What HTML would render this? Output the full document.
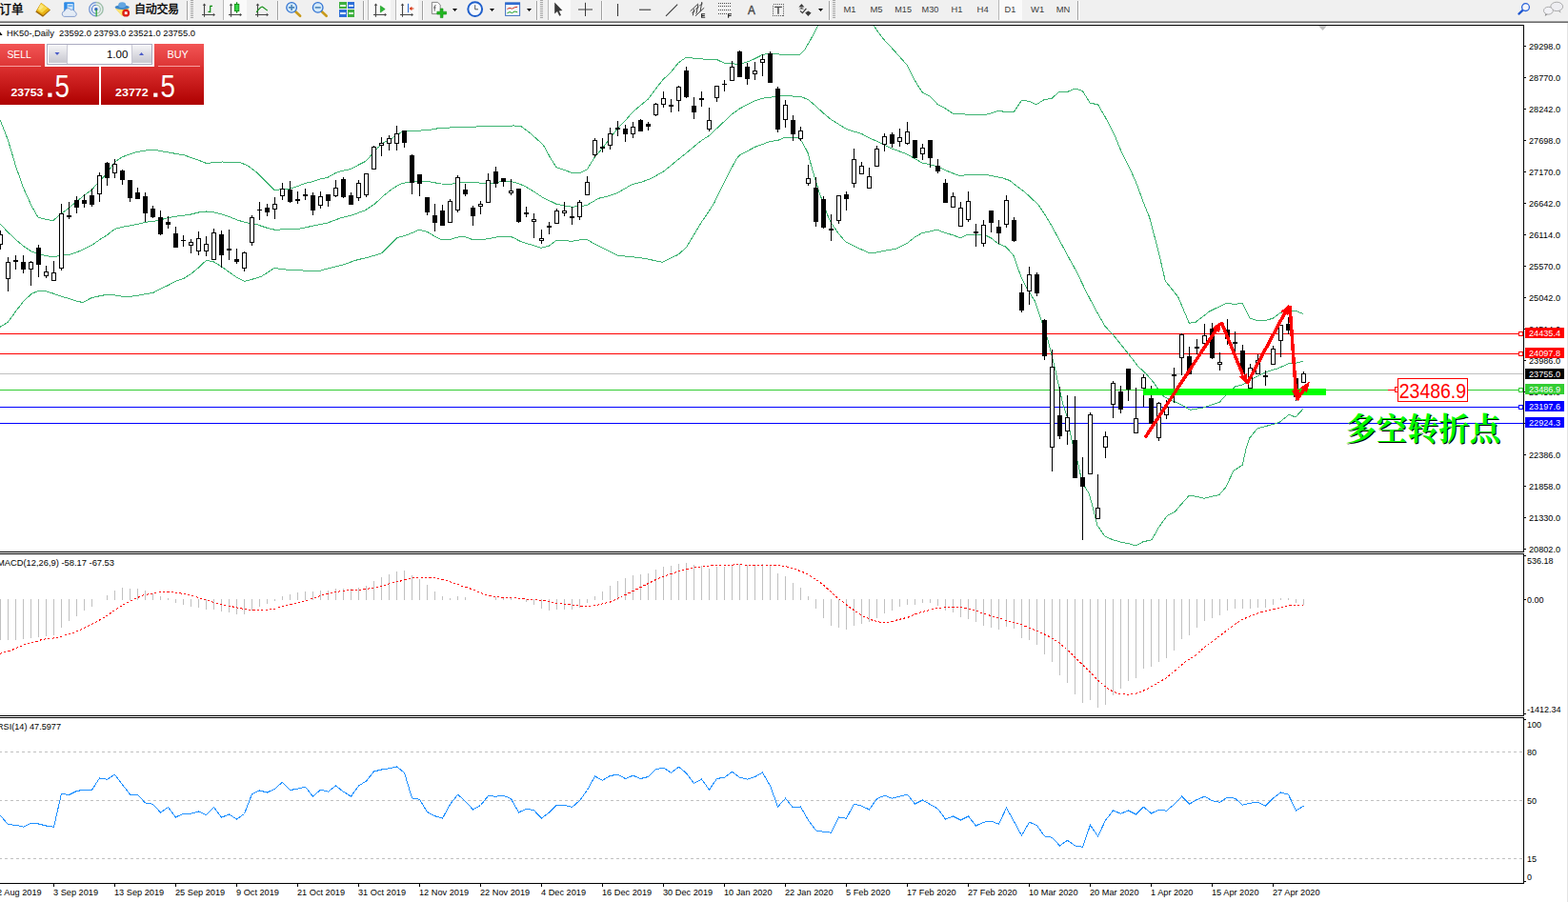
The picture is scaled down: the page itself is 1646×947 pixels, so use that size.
<!DOCTYPE html>
<html><head><meta charset="utf-8"><title>HK50 Daily</title>
<style>html,body{margin:0;padding:0;background:#fff;overflow:hidden}body{width:1646px;height:947px;font-family:"Liberation Sans",sans-serif}</style>
</head><body>
<svg width="1646" height="947" viewBox="0 0 1646 947" font-family="Liberation Sans, sans-serif" style="display:block">
<rect width="1646" height="947" fill="#fff"/>
<defs><clipPath id="cm"><rect x="0" y="27" width="1599" height="552"/></clipPath><clipPath id="cmacd"><rect x="0" y="582" width="1599" height="169"/></clipPath><clipPath id="crsi"><rect x="0" y="754" width="1599" height="173"/></clipPath><linearGradient id="gtab" x1="0" y1="0" x2="0" y2="1"><stop offset="0" stop-color="#F25555"/><stop offset="1" stop-color="#DC3333"/></linearGradient><linearGradient id="gblk" x1="0" y1="0" x2="0" y2="1"><stop offset="0" stop-color="#DC3030"/><stop offset="1" stop-color="#AE0000"/></linearGradient><linearGradient id="gbtn" x1="0" y1="0" x2="0" y2="1"><stop offset="0" stop-color="#F4F4F6"/><stop offset="0.5" stop-color="#DCDCE2"/><stop offset="1" stop-color="#C8C8D0"/></linearGradient></defs>
<g shape-rendering="crispEdges">
<rect x="0" y="350" width="1599" height="1" fill="#FF0000"/>
<rect x="0" y="371" width="1599" height="1" fill="#FF0000"/>
<rect x="0" y="392" width="1599" height="1" fill="#C0C0C0"/>
<rect x="0" y="409" width="1599" height="1" fill="#32CD32"/>
<rect x="0" y="427" width="1599" height="1" fill="#0000FF"/>
<rect x="0" y="444" width="1599" height="1" fill="#0000FF"/>
</g>
<g clip-path="url(#cm)" shape-rendering="crispEdges">
<polyline fill="none" stroke="#3CB371" stroke-width="1" points="0.0,125.8 8.3,146.7 16.7,175.0 25.0,198.4 33.4,216.8 40.0,228.1 48.4,230.5 55.9,231.5 64.4,224.3 72.4,218.4 80.4,211.4 88.4,205.1 96.4,199.3 104.5,190.0 112.5,181.7 120.5,170.0 128.5,164.7 143.5,159.5 160.2,157.0 176.9,160.0 193.6,163.0 206.9,167.6 216.6,171.4 233.6,170.0 252.0,170.4 260.3,174.2 270.0,181.3 278.3,190.0 288.3,200.0 296.0,198.3 304.0,198.3 312.0,195.8 320.0,192.5 328.0,190.8 336.0,188.0 344.0,186.3 352.0,181.7 360.0,179.2 368.0,177.5 376.0,173.3 384.0,169.2 390.0,162.5 396.7,155.0 403.3,149.2 411.7,145.0 420.0,139.7 424.0,137.2 436.7,137.2 450.0,136.7 460.0,134.7 470.0,134.2 480.0,133.0 486.7,133.8 503.3,132.8 511.7,132.2 540.0,132.0 546.7,132.5 556.7,140.0 570.0,151.7 578.3,166.7 584.2,175.8 591.7,178.3 600.0,181.3 609.2,181.3 616.3,178.0 624.3,165.0 632.3,155.8 640.3,145.0 648.3,135.0 656.3,126.7 664.3,117.5 672.3,110.8 680.3,104.2 688.3,93.3 696.3,83.3 704.3,75.8 712.3,65.8 720.3,60.3 728.3,61.2 736.3,61.7 744.3,63.0 752.3,62.5 760.3,66.2 768.3,66.7 776.3,67.5 784.3,65.0 792.3,61.7 800.3,57.5 808.3,56.2 820.0,57.2 840.0,57.2 845.0,51.8 851.7,40.2 858.3,27.7 860.0,24.0" /><polyline fill="none" stroke="#3CB371" stroke-width="1" points="915.0,24.0 920.0,31.0 926.7,40.2 936.7,51.0 945.0,60.2 951.7,67.7 956.7,77.7 961.7,86.8 968.0,96.8 976.0,101.0 984.0,109.3 991.7,113.5 1000.0,119.0 1015.0,120.2 1035.0,120.2 1041.7,118.5 1048.3,116.0 1056.7,118.0 1064.7,117.0 1072.5,105.3 1080.0,106.3 1088.0,109.7 1096.0,104.7 1104.0,103.3 1112.0,96.3 1120.8,96.3 1128.3,93.0 1136.3,95.3 1144.3,108.3 1152.5,109.7 1160.0,122.5 1170.0,141.7 1176.7,158.3 1186.7,178.3 1193.3,193.3 1200.0,211.7 1206.7,228.3 1209.2,237.5 1217.5,270.0 1223.3,295.0 1236.7,311.7 1248.3,339.2 1255.0,338.3 1270.0,326.7 1288.0,318.0 1296.0,319.5 1304.0,318.2 1312.0,334.0 1320.0,336.5 1328.0,336.5 1336.0,334.3 1344.0,328.5 1352.0,326.5 1360.0,326.2 1368.0,329.5" />
<polyline fill="none" stroke="#3CB371" stroke-width="1" points="0.0,235.0 8.3,243.7 16.7,251.7 25.0,258.7 33.4,264.2 40.4,266.7 48.4,268.7 56.4,269.7 64.4,268.3 72.4,267.5 80.4,265.0 88.4,261.3 96.4,257.5 104.5,251.7 112.5,246.7 120.5,240.5 128.5,238.3 136.5,237.0 144.5,235.3 152.5,233.3 160.5,232.5 168.5,230.8 176.5,228.7 184.5,227.2 192.6,226.2 200.6,225.0 208.6,223.0 216.6,222.0 224.6,223.0 232.6,225.0 240.6,227.5 248.6,230.8 256.6,233.3 264.6,235.0 270.0,235.8 280.0,239.2 288.3,241.2 300.0,240.8 315.0,240.0 328.3,237.2 343.3,234.2 356.7,229.2 370.0,225.8 383.3,220.8 393.3,214.2 403.3,205.0 411.7,198.3 420.0,193.3 426.7,191.7 436.7,190.8 446.7,190.0 453.3,191.3 463.3,193.0 473.3,193.3 480.0,192.0 486.7,191.3 503.3,192.0 520.0,192.0 528.0,190.0 536.7,190.8 544.0,192.5 550.0,195.0 560.0,200.8 570.0,207.5 584.0,214.2 592.0,215.8 600.0,217.2 608.0,216.7 616.0,215.5 628.3,208.3 640.0,205.5 648.3,202.5 663.3,193.7 673.3,191.2 683.3,187.5 696.7,180.0 706.7,171.7 720.3,160.8 736.3,147.5 744.3,142.5 752.3,135.0 760.3,127.5 768.3,120.0 776.3,114.2 784.3,109.7 792.3,105.8 800.3,103.3 808.3,102.2 816.0,101.3 824.0,100.2 832.0,101.0 840.0,101.3 848.0,104.3 856.0,111.0 864.0,118.5 872.0,125.2 880.0,130.2 888.0,135.2 896.0,138.0 904.0,140.2 912.0,144.7 920.0,148.0 928.0,151.8 936.0,156.0 944.0,158.8 952.0,161.8 960.0,166.5 968.0,171.0 976.0,172.7 984.0,174.7 991.7,178.5 1000.0,181.8 1008.0,184.7 1016.7,183.3 1035.0,183.3 1043.3,185.0 1051.7,186.7 1060.0,189.5 1066.7,195.0 1076.7,202.5 1090.0,215.0 1098.3,227.5 1104.2,237.5 1121.7,270.0 1130.0,285.0 1140.0,305.8 1150.0,325.0 1160.0,342.5 1170.0,353.3 1183.3,370.0 1195.0,385.0 1203.3,392.5 1211.7,402.5 1220.0,415.0 1226.7,419.2 1236.7,423.3 1243.3,426.7 1249.2,430.3 1261.7,428.3 1266.7,426.7 1280.0,422.5 1288.3,413.3 1296.7,405.8 1305.0,403.7 1316.7,396.7 1328.3,390.8 1341.7,386.7 1353.0,381.7 1360.0,381.3 1368.0,379.2" />
<polyline fill="none" stroke="#3CB371" stroke-width="1" points="0.0,343.3 8.3,338.3 16.7,326.7 25.0,315.8 33.4,308.3 40.4,305.3 48.4,305.8 56.4,308.3 64.4,311.3 72.4,313.3 80.4,316.2 87.0,317.5 96.4,312.5 104.5,310.8 112.5,309.2 120.5,310.0 128.5,311.2 136.5,311.3 144.5,310.3 152.5,308.7 160.5,307.5 168.5,303.3 176.5,299.5 184.5,295.3 192.6,292.5 200.6,287.5 208.6,280.8 216.6,273.3 224.6,275.0 232.6,280.0 240.6,285.8 248.6,291.3 256.6,295.3 264.6,293.3 274.0,290.5 288.0,281.5 300.0,283.0 319.6,284.1 336.3,284.1 350.0,280.5 361.7,277.5 373.3,273.3 386.7,270.0 400.0,266.3 408.3,258.3 416.7,249.7 425.0,247.5 433.3,244.2 440.0,241.3 448.3,243.3 456.7,248.3 464.2,252.0 471.7,251.7 480.0,249.2 486.7,248.0 495.0,251.2 503.3,251.7 511.7,250.8 520.0,249.2 528.0,248.0 536.7,248.7 540.0,250.0 546.7,253.7 556.7,256.7 568.0,260.3 576.0,258.3 584.0,252.5 592.0,252.5 600.0,253.3 608.0,252.0 616.0,251.2 625.0,256.7 635.0,261.3 648.3,268.3 663.3,269.7 676.7,271.3 690.0,274.2 695.8,275.3 703.3,271.3 711.7,267.5 720.3,260.0 728.3,246.7 736.3,233.3 744.3,221.7 750.0,212.5 756.7,198.3 765.0,181.7 773.3,166.7 776.3,163.0 784.3,158.8 792.3,154.5 800.3,151.5 808.3,148.5 816.7,147.3 824.0,144.3 832.0,144.0 838.3,144.7 842.5,149.7 848.0,160.5 851.7,174.0 856.0,189.2 860.0,201.7 864.0,213.3 868.3,225.0 872.0,233.3 880.0,245.0 888.0,254.2 900.0,260.0 912.0,265.3 920.0,265.0 930.0,263.0 940.0,261.3 951.7,255.8 960.0,249.2 968.0,244.5 976.0,243.0 984.0,241.2 992.0,244.5 1000.0,246.7 1008.0,249.7 1016.0,246.3 1024.0,246.7 1032.0,245.8 1040.0,249.7 1048.0,255.8 1056.0,259.2 1064.0,268.3 1068.0,280.0 1072.0,291.0 1078.3,303.3 1086.7,316.7 1093.3,336.7 1100.0,356.7 1106.7,383.3 1112.0,408.0 1116.0,425.0 1120.0,436.7 1125.0,461.7 1131.7,486.7 1136.0,506.7 1143.3,518.3 1148.3,536.7 1152.0,551.7 1160.0,563.3 1168.3,566.7 1176.7,569.2 1185.0,570.8 1192.0,573.0 1200.0,568.8 1209.2,566.7 1216.0,554.2 1225.0,541.7 1233.3,537.5 1241.7,527.5 1248.3,520.3 1255.8,521.2 1264.2,523.3 1271.7,521.3 1280.0,519.5 1286.7,511.7 1295.0,494.2 1304.2,488.3 1308.3,470.0 1311.7,460.0 1320.0,449.7 1333.3,446.3 1343.3,443.3 1353.0,435.3 1360.0,438.0 1368.0,429.2" />
</g>
<g clip-path="url(#cm)" shape-rendering="crispEdges">
<rect x="0" y="242" width="1" height="20" fill="#000"/>
<rect x="-2" y="246" width="5" height="11" fill="#000"/>
<rect x="-1" y="247" width="3" height="9" fill="#fff"/>
<rect x="8" y="270" width="1" height="36" fill="#000"/>
<rect x="6" y="275" width="5" height="18" fill="#000"/>
<rect x="7" y="276" width="3" height="16" fill="#fff"/>
<rect x="16" y="268" width="1" height="15" fill="#000"/>
<rect x="14" y="273" width="5" height="2" fill="#000"/>
<rect x="24" y="268" width="1" height="19" fill="#000"/>
<rect x="22" y="275" width="5" height="8" fill="#000"/>
<rect x="32" y="274" width="1" height="26" fill="#000"/>
<rect x="30" y="275" width="5" height="8" fill="#000"/>
<rect x="31" y="276" width="3" height="6" fill="#fff"/>
<rect x="40" y="257" width="1" height="34" fill="#000"/>
<rect x="38" y="260" width="5" height="18" fill="#000"/>
<rect x="48" y="279" width="1" height="13" fill="#000"/>
<rect x="46" y="285" width="5" height="5" fill="#000"/>
<rect x="47" y="286" width="3" height="3" fill="#fff"/>
<rect x="56" y="274" width="1" height="21" fill="#000"/>
<rect x="54" y="286" width="5" height="9" fill="#000"/>
<rect x="55" y="287" width="3" height="7" fill="#fff"/>
<rect x="64" y="214" width="1" height="70" fill="#000"/>
<rect x="62" y="224" width="5" height="58" fill="#000"/>
<rect x="63" y="225" width="3" height="56" fill="#fff"/>
<rect x="72" y="212" width="1" height="18" fill="#000"/>
<rect x="70" y="226" width="5" height="2" fill="#000"/>
<rect x="80" y="206" width="1" height="18" fill="#000"/>
<rect x="78" y="210" width="5" height="8" fill="#000"/>
<rect x="88" y="204" width="1" height="14" fill="#000"/>
<rect x="86" y="210" width="5" height="4" fill="#000"/>
<rect x="96" y="198" width="1" height="19" fill="#000"/>
<rect x="94" y="205" width="5" height="10" fill="#000"/>
<rect x="104" y="181" width="1" height="31" fill="#000"/>
<rect x="102" y="184" width="5" height="20" fill="#000"/>
<rect x="103" y="185" width="3" height="18" fill="#fff"/>
<rect x="112" y="170" width="1" height="25" fill="#000"/>
<rect x="110" y="171" width="5" height="16" fill="#000"/>
<rect x="120" y="167" width="1" height="20" fill="#000"/>
<rect x="118" y="172" width="5" height="10" fill="#000"/>
<rect x="119" y="173" width="3" height="8" fill="#fff"/>
<rect x="128" y="178" width="1" height="16" fill="#000"/>
<rect x="126" y="179" width="5" height="10" fill="#000"/>
<rect x="136" y="189" width="1" height="23" fill="#000"/>
<rect x="134" y="189" width="5" height="19" fill="#000"/>
<rect x="144" y="197" width="1" height="12" fill="#000"/>
<rect x="142" y="202" width="5" height="7" fill="#000"/>
<rect x="152" y="202" width="1" height="31" fill="#000"/>
<rect x="150" y="206" width="5" height="18" fill="#000"/>
<rect x="160" y="216" width="1" height="13" fill="#000"/>
<rect x="158" y="219" width="5" height="9" fill="#000"/>
<rect x="168" y="221" width="1" height="26" fill="#000"/>
<rect x="166" y="228" width="5" height="18" fill="#000"/>
<rect x="176" y="227" width="1" height="13" fill="#000"/>
<rect x="174" y="233" width="5" height="3" fill="#000"/>
<rect x="184" y="238" width="1" height="22" fill="#000"/>
<rect x="182" y="245" width="5" height="15" fill="#000"/>
<rect x="192" y="247" width="1" height="12" fill="#000"/>
<rect x="190" y="252" width="5" height="1" fill="#000"/>
<rect x="200" y="251" width="1" height="15" fill="#000"/>
<rect x="198" y="254" width="5" height="4" fill="#000"/>
<rect x="199" y="255" width="3" height="2" fill="#fff"/>
<rect x="208" y="243" width="1" height="25" fill="#000"/>
<rect x="206" y="250" width="5" height="14" fill="#000"/>
<rect x="207" y="251" width="3" height="12" fill="#fff"/>
<rect x="216" y="248" width="1" height="21" fill="#000"/>
<rect x="214" y="256" width="5" height="8" fill="#000"/>
<rect x="215" y="257" width="3" height="6" fill="#fff"/>
<rect x="224" y="240" width="1" height="33" fill="#000"/>
<rect x="222" y="244" width="5" height="29" fill="#000"/>
<rect x="223" y="245" width="3" height="27" fill="#fff"/>
<rect x="232" y="242" width="1" height="39" fill="#000"/>
<rect x="230" y="246" width="5" height="22" fill="#000"/>
<rect x="240" y="241" width="1" height="32" fill="#000"/>
<rect x="238" y="261" width="5" height="2" fill="#000"/>
<rect x="248" y="261" width="1" height="16" fill="#000"/>
<rect x="246" y="272" width="5" height="3" fill="#000"/>
<rect x="256" y="264" width="1" height="21" fill="#000"/>
<rect x="254" y="265" width="5" height="17" fill="#000"/>
<rect x="255" y="266" width="3" height="15" fill="#fff"/>
<rect x="264" y="226" width="1" height="32" fill="#000"/>
<rect x="262" y="228" width="5" height="27" fill="#000"/>
<rect x="263" y="229" width="3" height="25" fill="#fff"/>
<rect x="272" y="212" width="1" height="19" fill="#000"/>
<rect x="270" y="220" width="5" height="1" fill="#000"/>
<rect x="280" y="214" width="1" height="13" fill="#000"/>
<rect x="278" y="218" width="5" height="5" fill="#000"/>
<rect x="288" y="207" width="1" height="23" fill="#000"/>
<rect x="286" y="214" width="5" height="6" fill="#000"/>
<rect x="287" y="215" width="3" height="4" fill="#fff"/>
<rect x="296" y="192" width="1" height="18" fill="#000"/>
<rect x="294" y="198" width="5" height="8" fill="#000"/>
<rect x="295" y="199" width="3" height="6" fill="#fff"/>
<rect x="304" y="190" width="1" height="23" fill="#000"/>
<rect x="302" y="199" width="5" height="13" fill="#000"/>
<rect x="312" y="201" width="1" height="13" fill="#000"/>
<rect x="310" y="209" width="5" height="2" fill="#000"/>
<rect x="320" y="198" width="1" height="12" fill="#000"/>
<rect x="318" y="204" width="5" height="2" fill="#000"/>
<rect x="328" y="202" width="1" height="24" fill="#000"/>
<rect x="326" y="205" width="5" height="16" fill="#000"/>
<rect x="336" y="201" width="1" height="18" fill="#000"/>
<rect x="334" y="206" width="5" height="10" fill="#000"/>
<rect x="335" y="207" width="3" height="8" fill="#fff"/>
<rect x="344" y="204" width="1" height="13" fill="#000"/>
<rect x="342" y="204" width="5" height="7" fill="#000"/>
<rect x="352" y="189" width="1" height="18" fill="#000"/>
<rect x="350" y="197" width="5" height="9" fill="#000"/>
<rect x="351" y="198" width="3" height="7" fill="#fff"/>
<rect x="360" y="186" width="1" height="22" fill="#000"/>
<rect x="358" y="188" width="5" height="19" fill="#000"/>
<rect x="368" y="202" width="1" height="13" fill="#000"/>
<rect x="366" y="205" width="5" height="10" fill="#000"/>
<rect x="376" y="189" width="1" height="22" fill="#000"/>
<rect x="374" y="192" width="5" height="16" fill="#000"/>
<rect x="375" y="193" width="3" height="14" fill="#fff"/>
<rect x="384" y="182" width="1" height="25" fill="#000"/>
<rect x="382" y="182" width="5" height="23" fill="#000"/>
<rect x="383" y="183" width="3" height="21" fill="#fff"/>
<rect x="392" y="153" width="1" height="25" fill="#000"/>
<rect x="390" y="154" width="5" height="24" fill="#000"/>
<rect x="391" y="155" width="3" height="22" fill="#fff"/>
<rect x="400" y="144" width="1" height="20" fill="#000"/>
<rect x="398" y="150" width="5" height="3" fill="#000"/>
<rect x="399" y="151" width="3" height="1" fill="#fff"/>
<rect x="408" y="142" width="1" height="16" fill="#000"/>
<rect x="406" y="145" width="5" height="6" fill="#000"/>
<rect x="407" y="146" width="3" height="4" fill="#fff"/>
<rect x="416" y="132" width="1" height="26" fill="#000"/>
<rect x="414" y="140" width="5" height="11" fill="#000"/>
<rect x="415" y="141" width="3" height="9" fill="#fff"/>
<rect x="424" y="137" width="1" height="18" fill="#000"/>
<rect x="422" y="137" width="5" height="13" fill="#000"/>
<rect x="432" y="162" width="1" height="42" fill="#000"/>
<rect x="430" y="163" width="5" height="29" fill="#000"/>
<rect x="440" y="183" width="1" height="23" fill="#000"/>
<rect x="438" y="183" width="5" height="10" fill="#000"/>
<rect x="448" y="207" width="1" height="19" fill="#000"/>
<rect x="446" y="207" width="5" height="16" fill="#000"/>
<rect x="456" y="214" width="1" height="29" fill="#000"/>
<rect x="454" y="226" width="5" height="8" fill="#000"/>
<rect x="464" y="215" width="1" height="22" fill="#000"/>
<rect x="462" y="221" width="5" height="16" fill="#000"/>
<rect x="472" y="209" width="1" height="25" fill="#000"/>
<rect x="470" y="211" width="5" height="23" fill="#000"/>
<rect x="471" y="212" width="3" height="21" fill="#fff"/>
<rect x="480" y="184" width="1" height="39" fill="#000"/>
<rect x="478" y="186" width="5" height="35" fill="#000"/>
<rect x="479" y="187" width="3" height="33" fill="#fff"/>
<rect x="488" y="193" width="1" height="13" fill="#000"/>
<rect x="486" y="199" width="5" height="5" fill="#000"/>
<rect x="496" y="216" width="1" height="21" fill="#000"/>
<rect x="494" y="218" width="5" height="9" fill="#000"/>
<rect x="504" y="211" width="1" height="14" fill="#000"/>
<rect x="502" y="214" width="5" height="3" fill="#000"/>
<rect x="503" y="215" width="3" height="1" fill="#fff"/>
<rect x="512" y="182" width="1" height="31" fill="#000"/>
<rect x="510" y="189" width="5" height="24" fill="#000"/>
<rect x="511" y="190" width="3" height="22" fill="#fff"/>
<rect x="520" y="175" width="1" height="22" fill="#000"/>
<rect x="518" y="180" width="5" height="13" fill="#000"/>
<rect x="528" y="187" width="1" height="9" fill="#000"/>
<rect x="526" y="187" width="5" height="4" fill="#000"/>
<rect x="536" y="188" width="1" height="17" fill="#000"/>
<rect x="534" y="200" width="5" height="3" fill="#000"/>
<rect x="535" y="201" width="3" height="1" fill="#fff"/>
<rect x="544" y="198" width="1" height="36" fill="#000"/>
<rect x="542" y="198" width="5" height="35" fill="#000"/>
<rect x="552" y="217" width="1" height="11" fill="#000"/>
<rect x="550" y="223" width="5" height="2" fill="#000"/>
<rect x="560" y="224" width="1" height="26" fill="#000"/>
<rect x="558" y="230" width="5" height="3" fill="#000"/>
<rect x="559" y="231" width="3" height="1" fill="#fff"/>
<rect x="568" y="241" width="1" height="15" fill="#000"/>
<rect x="566" y="250" width="5" height="3" fill="#000"/>
<rect x="567" y="251" width="3" height="1" fill="#fff"/>
<rect x="576" y="233" width="1" height="13" fill="#000"/>
<rect x="574" y="237" width="5" height="2" fill="#000"/>
<rect x="584" y="219" width="1" height="16" fill="#000"/>
<rect x="582" y="221" width="5" height="14" fill="#000"/>
<rect x="583" y="222" width="3" height="12" fill="#fff"/>
<rect x="592" y="212" width="1" height="15" fill="#000"/>
<rect x="590" y="221" width="5" height="3" fill="#000"/>
<rect x="591" y="222" width="3" height="1" fill="#fff"/>
<rect x="600" y="217" width="1" height="19" fill="#000"/>
<rect x="598" y="227" width="5" height="2" fill="#000"/>
<rect x="608" y="210" width="1" height="21" fill="#000"/>
<rect x="606" y="212" width="5" height="16" fill="#000"/>
<rect x="607" y="213" width="3" height="14" fill="#fff"/>
<rect x="616" y="185" width="1" height="20" fill="#000"/>
<rect x="614" y="191" width="5" height="14" fill="#000"/>
<rect x="615" y="192" width="3" height="12" fill="#fff"/>
<rect x="624" y="145" width="1" height="20" fill="#000"/>
<rect x="622" y="147" width="5" height="16" fill="#000"/>
<rect x="623" y="148" width="3" height="14" fill="#fff"/>
<rect x="632" y="145" width="1" height="15" fill="#000"/>
<rect x="630" y="154" width="5" height="2" fill="#000"/>
<rect x="640" y="134" width="1" height="23" fill="#000"/>
<rect x="638" y="140" width="5" height="13" fill="#000"/>
<rect x="639" y="141" width="3" height="11" fill="#fff"/>
<rect x="648" y="127" width="1" height="16" fill="#000"/>
<rect x="646" y="134" width="5" height="2" fill="#000"/>
<rect x="656" y="131" width="1" height="18" fill="#000"/>
<rect x="654" y="135" width="5" height="6" fill="#000"/>
<rect x="664" y="128" width="1" height="17" fill="#000"/>
<rect x="662" y="133" width="5" height="8" fill="#000"/>
<rect x="663" y="134" width="3" height="6" fill="#fff"/>
<rect x="672" y="125" width="1" height="13" fill="#000"/>
<rect x="670" y="126" width="5" height="12" fill="#000"/>
<rect x="680" y="128" width="1" height="9" fill="#000"/>
<rect x="678" y="130" width="5" height="3" fill="#000"/>
<rect x="688" y="108" width="1" height="14" fill="#000"/>
<rect x="686" y="109" width="5" height="12" fill="#000"/>
<rect x="687" y="110" width="3" height="10" fill="#fff"/>
<rect x="696" y="96" width="1" height="17" fill="#000"/>
<rect x="694" y="103" width="5" height="7" fill="#000"/>
<rect x="695" y="104" width="3" height="5" fill="#fff"/>
<rect x="704" y="104" width="1" height="14" fill="#000"/>
<rect x="702" y="110" width="5" height="2" fill="#000"/>
<rect x="712" y="90" width="1" height="27" fill="#000"/>
<rect x="710" y="91" width="5" height="15" fill="#000"/>
<rect x="711" y="92" width="3" height="13" fill="#fff"/>
<rect x="720" y="70" width="1" height="33" fill="#000"/>
<rect x="718" y="74" width="5" height="28" fill="#000"/>
<rect x="728" y="102" width="1" height="23" fill="#000"/>
<rect x="726" y="111" width="5" height="7" fill="#000"/>
<rect x="736" y="96" width="1" height="16" fill="#000"/>
<rect x="734" y="103" width="5" height="2" fill="#000"/>
<rect x="744" y="113" width="1" height="25" fill="#000"/>
<rect x="742" y="126" width="5" height="10" fill="#000"/>
<rect x="743" y="127" width="3" height="8" fill="#fff"/>
<rect x="752" y="90" width="1" height="17" fill="#000"/>
<rect x="750" y="90" width="5" height="13" fill="#000"/>
<rect x="751" y="91" width="3" height="11" fill="#fff"/>
<rect x="760" y="84" width="1" height="12" fill="#000"/>
<rect x="758" y="88" width="5" height="1" fill="#000"/>
<rect x="768" y="64" width="1" height="21" fill="#000"/>
<rect x="766" y="70" width="5" height="15" fill="#000"/>
<rect x="767" y="71" width="3" height="13" fill="#fff"/>
<rect x="776" y="53" width="1" height="28" fill="#000"/>
<rect x="774" y="54" width="5" height="27" fill="#000"/>
<rect x="784" y="66" width="1" height="23" fill="#000"/>
<rect x="782" y="70" width="5" height="13" fill="#000"/>
<rect x="792" y="65" width="1" height="19" fill="#000"/>
<rect x="790" y="74" width="5" height="4" fill="#000"/>
<rect x="791" y="75" width="3" height="2" fill="#fff"/>
<rect x="800" y="57" width="1" height="23" fill="#000"/>
<rect x="798" y="62" width="5" height="4" fill="#000"/>
<rect x="799" y="63" width="3" height="2" fill="#fff"/>
<rect x="808" y="54" width="1" height="33" fill="#000"/>
<rect x="806" y="56" width="5" height="31" fill="#000"/>
<rect x="816" y="91" width="1" height="48" fill="#000"/>
<rect x="814" y="93" width="5" height="43" fill="#000"/>
<rect x="824" y="105" width="1" height="29" fill="#000"/>
<rect x="822" y="110" width="5" height="16" fill="#000"/>
<rect x="823" y="111" width="3" height="14" fill="#fff"/>
<rect x="832" y="121" width="1" height="27" fill="#000"/>
<rect x="830" y="126" width="5" height="15" fill="#000"/>
<rect x="840" y="133" width="1" height="15" fill="#000"/>
<rect x="838" y="137" width="5" height="9" fill="#000"/>
<rect x="839" y="138" width="3" height="7" fill="#fff"/>
<rect x="848" y="173" width="1" height="22" fill="#000"/>
<rect x="846" y="187" width="5" height="6" fill="#000"/>
<rect x="847" y="188" width="3" height="4" fill="#fff"/>
<rect x="856" y="186" width="1" height="52" fill="#000"/>
<rect x="854" y="197" width="5" height="36" fill="#000"/>
<rect x="864" y="206" width="1" height="34" fill="#000"/>
<rect x="862" y="209" width="5" height="30" fill="#000"/>
<rect x="872" y="225" width="1" height="28" fill="#000"/>
<rect x="870" y="240" width="5" height="2" fill="#000"/>
<rect x="880" y="205" width="1" height="30" fill="#000"/>
<rect x="878" y="205" width="5" height="27" fill="#000"/>
<rect x="879" y="206" width="3" height="25" fill="#fff"/>
<rect x="888" y="201" width="1" height="20" fill="#000"/>
<rect x="886" y="204" width="5" height="5" fill="#000"/>
<rect x="896" y="156" width="1" height="41" fill="#000"/>
<rect x="894" y="167" width="5" height="26" fill="#000"/>
<rect x="895" y="168" width="3" height="24" fill="#fff"/>
<rect x="904" y="170" width="1" height="13" fill="#000"/>
<rect x="902" y="174" width="5" height="9" fill="#000"/>
<rect x="903" y="175" width="3" height="7" fill="#fff"/>
<rect x="912" y="176" width="1" height="22" fill="#000"/>
<rect x="910" y="185" width="5" height="13" fill="#000"/>
<rect x="911" y="186" width="3" height="11" fill="#fff"/>
<rect x="920" y="153" width="1" height="22" fill="#000"/>
<rect x="918" y="156" width="5" height="19" fill="#000"/>
<rect x="919" y="157" width="3" height="17" fill="#fff"/>
<rect x="928" y="140" width="1" height="19" fill="#000"/>
<rect x="926" y="143" width="5" height="9" fill="#000"/>
<rect x="927" y="144" width="3" height="7" fill="#fff"/>
<rect x="936" y="139" width="1" height="16" fill="#000"/>
<rect x="934" y="141" width="5" height="10" fill="#000"/>
<rect x="944" y="135" width="1" height="19" fill="#000"/>
<rect x="942" y="144" width="5" height="5" fill="#000"/>
<rect x="943" y="145" width="3" height="3" fill="#fff"/>
<rect x="952" y="128" width="1" height="24" fill="#000"/>
<rect x="950" y="138" width="5" height="13" fill="#000"/>
<rect x="951" y="139" width="3" height="11" fill="#fff"/>
<rect x="960" y="147" width="1" height="19" fill="#000"/>
<rect x="958" y="147" width="5" height="19" fill="#000"/>
<rect x="968" y="151" width="1" height="17" fill="#000"/>
<rect x="966" y="155" width="5" height="7" fill="#000"/>
<rect x="967" y="156" width="3" height="5" fill="#fff"/>
<rect x="976" y="147" width="1" height="29" fill="#000"/>
<rect x="974" y="147" width="5" height="19" fill="#000"/>
<rect x="984" y="167" width="1" height="15" fill="#000"/>
<rect x="982" y="174" width="5" height="6" fill="#000"/>
<rect x="992" y="188" width="1" height="25" fill="#000"/>
<rect x="990" y="192" width="5" height="21" fill="#000"/>
<rect x="1000" y="202" width="1" height="16" fill="#000"/>
<rect x="998" y="206" width="5" height="12" fill="#000"/>
<rect x="999" y="207" width="3" height="10" fill="#fff"/>
<rect x="1008" y="212" width="1" height="26" fill="#000"/>
<rect x="1006" y="218" width="5" height="20" fill="#000"/>
<rect x="1007" y="219" width="3" height="18" fill="#fff"/>
<rect x="1016" y="201" width="1" height="32" fill="#000"/>
<rect x="1014" y="211" width="5" height="20" fill="#000"/>
<rect x="1015" y="212" width="3" height="18" fill="#fff"/>
<rect x="1024" y="235" width="1" height="24" fill="#000"/>
<rect x="1022" y="243" width="5" height="2" fill="#000"/>
<rect x="1032" y="231" width="1" height="28" fill="#000"/>
<rect x="1030" y="236" width="5" height="20" fill="#000"/>
<rect x="1031" y="237" width="3" height="18" fill="#fff"/>
<rect x="1040" y="221" width="1" height="23" fill="#000"/>
<rect x="1038" y="221" width="5" height="13" fill="#000"/>
<rect x="1048" y="231" width="1" height="25" fill="#000"/>
<rect x="1046" y="238" width="5" height="7" fill="#000"/>
<rect x="1056" y="205" width="1" height="34" fill="#000"/>
<rect x="1054" y="210" width="5" height="26" fill="#000"/>
<rect x="1055" y="211" width="3" height="24" fill="#fff"/>
<rect x="1064" y="228" width="1" height="26" fill="#000"/>
<rect x="1062" y="231" width="5" height="22" fill="#000"/>
<rect x="1072" y="298" width="1" height="30" fill="#000"/>
<rect x="1070" y="307" width="5" height="19" fill="#000"/>
<rect x="1080" y="280" width="1" height="40" fill="#000"/>
<rect x="1078" y="288" width="5" height="18" fill="#000"/>
<rect x="1079" y="289" width="3" height="16" fill="#fff"/>
<rect x="1088" y="286" width="1" height="25" fill="#000"/>
<rect x="1086" y="288" width="5" height="20" fill="#000"/>
<rect x="1096" y="335" width="1" height="43" fill="#000"/>
<rect x="1094" y="336" width="5" height="38" fill="#000"/>
<rect x="1104" y="367" width="1" height="128" fill="#000"/>
<rect x="1102" y="385" width="5" height="85" fill="#000"/>
<rect x="1103" y="386" width="3" height="83" fill="#fff"/>
<rect x="1112" y="406" width="1" height="55" fill="#000"/>
<rect x="1110" y="436" width="5" height="22" fill="#000"/>
<rect x="1120" y="415" width="1" height="52" fill="#000"/>
<rect x="1118" y="438" width="5" height="15" fill="#000"/>
<rect x="1119" y="439" width="3" height="13" fill="#fff"/>
<rect x="1128" y="416" width="1" height="86" fill="#000"/>
<rect x="1126" y="462" width="5" height="40" fill="#000"/>
<rect x="1136" y="480" width="1" height="87" fill="#000"/>
<rect x="1134" y="501" width="5" height="10" fill="#000"/>
<rect x="1144" y="433" width="1" height="65" fill="#000"/>
<rect x="1142" y="435" width="5" height="63" fill="#000"/>
<rect x="1143" y="436" width="3" height="61" fill="#fff"/>
<rect x="1152" y="498" width="1" height="47" fill="#000"/>
<rect x="1150" y="533" width="5" height="12" fill="#000"/>
<rect x="1151" y="534" width="3" height="10" fill="#fff"/>
<rect x="1160" y="453" width="1" height="28" fill="#000"/>
<rect x="1158" y="458" width="5" height="12" fill="#000"/>
<rect x="1159" y="459" width="3" height="10" fill="#fff"/>
<rect x="1168" y="400" width="1" height="39" fill="#000"/>
<rect x="1166" y="402" width="5" height="23" fill="#000"/>
<rect x="1167" y="403" width="3" height="21" fill="#fff"/>
<rect x="1176" y="405" width="1" height="29" fill="#000"/>
<rect x="1174" y="411" width="5" height="19" fill="#000"/>
<rect x="1184" y="387" width="1" height="34" fill="#000"/>
<rect x="1182" y="387" width="5" height="22" fill="#000"/>
<rect x="1192" y="407" width="1" height="48" fill="#000"/>
<rect x="1190" y="439" width="5" height="16" fill="#000"/>
<rect x="1191" y="440" width="3" height="14" fill="#fff"/>
<rect x="1200" y="393" width="1" height="34" fill="#000"/>
<rect x="1198" y="396" width="5" height="12" fill="#000"/>
<rect x="1199" y="397" width="3" height="10" fill="#fff"/>
<rect x="1208" y="405" width="1" height="40" fill="#000"/>
<rect x="1206" y="418" width="5" height="27" fill="#000"/>
<rect x="1216" y="422" width="1" height="41" fill="#000"/>
<rect x="1214" y="423" width="5" height="37" fill="#000"/>
<rect x="1215" y="424" width="3" height="35" fill="#fff"/>
<rect x="1224" y="420" width="1" height="20" fill="#000"/>
<rect x="1222" y="427" width="5" height="9" fill="#000"/>
<rect x="1223" y="428" width="3" height="7" fill="#fff"/>
<rect x="1232" y="386" width="1" height="37" fill="#000"/>
<rect x="1230" y="393" width="5" height="2" fill="#000"/>
<rect x="1240" y="350" width="1" height="44" fill="#000"/>
<rect x="1238" y="351" width="5" height="25" fill="#000"/>
<rect x="1239" y="352" width="3" height="23" fill="#fff"/>
<rect x="1248" y="364" width="1" height="29" fill="#000"/>
<rect x="1246" y="374" width="5" height="19" fill="#000"/>
<rect x="1256" y="356" width="1" height="16" fill="#000"/>
<rect x="1254" y="364" width="5" height="2" fill="#000"/>
<rect x="1264" y="340" width="1" height="21" fill="#000"/>
<rect x="1262" y="352" width="5" height="9" fill="#000"/>
<rect x="1263" y="353" width="3" height="7" fill="#fff"/>
<rect x="1272" y="339" width="1" height="38" fill="#000"/>
<rect x="1270" y="345" width="5" height="31" fill="#000"/>
<rect x="1280" y="370" width="1" height="19" fill="#000"/>
<rect x="1278" y="380" width="5" height="3" fill="#000"/>
<rect x="1279" y="381" width="3" height="1" fill="#fff"/>
<rect x="1288" y="335" width="1" height="27" fill="#000"/>
<rect x="1286" y="346" width="5" height="10" fill="#000"/>
<rect x="1296" y="348" width="1" height="22" fill="#000"/>
<rect x="1294" y="359" width="5" height="2" fill="#000"/>
<rect x="1304" y="362" width="1" height="35" fill="#000"/>
<rect x="1302" y="368" width="5" height="25" fill="#000"/>
<rect x="1312" y="382" width="1" height="26" fill="#000"/>
<rect x="1310" y="386" width="5" height="22" fill="#000"/>
<rect x="1311" y="387" width="3" height="20" fill="#fff"/>
<rect x="1320" y="372" width="1" height="21" fill="#000"/>
<rect x="1318" y="378" width="5" height="15" fill="#000"/>
<rect x="1319" y="379" width="3" height="13" fill="#fff"/>
<rect x="1328" y="389" width="1" height="16" fill="#000"/>
<rect x="1326" y="394" width="5" height="2" fill="#000"/>
<rect x="1336" y="363" width="1" height="20" fill="#000"/>
<rect x="1334" y="366" width="5" height="17" fill="#000"/>
<rect x="1335" y="367" width="3" height="15" fill="#fff"/>
<rect x="1344" y="341" width="1" height="34" fill="#000"/>
<rect x="1342" y="341" width="5" height="17" fill="#000"/>
<rect x="1343" y="342" width="3" height="15" fill="#fff"/>
<rect x="1352" y="333" width="1" height="18" fill="#000"/>
<rect x="1350" y="340" width="5" height="7" fill="#000"/>
<rect x="1360" y="396" width="1" height="25" fill="#000"/>
<rect x="1358" y="397" width="5" height="20" fill="#000"/>
<rect x="1368" y="390" width="1" height="12" fill="#000"/>
<rect x="1366" y="392" width="5" height="10" fill="#000"/>
<rect x="1367" y="393" width="3" height="8" fill="#fff"/>
</g>
<rect x="1200" y="408" width="192" height="7" fill="#00FF00" shape-rendering="crispEdges"/>
<g shape-rendering="crispEdges">
<line x1="1202.0" y1="459.5" x2="1276.3" y2="346.7" stroke="#FF0000" stroke-width="3.5"/><polygon points="1282.3,337.5 1280.0,349.2 1272.5,344.2" fill="#FF0000"/>
<line x1="1282.3" y1="338.5" x2="1304.8" y2="393.8" stroke="#FF0000" stroke-width="3.5"/><polygon points="1309.0,404.0 1300.7,395.5 1309.0,392.1" fill="#FF0000"/>
<line x1="1309.0" y1="403.0" x2="1348.4" y2="329.2" stroke="#FF0000" stroke-width="3.5"/><polygon points="1353.6,319.5 1352.4,331.3 1344.4,327.1" fill="#FF0000"/>
<line x1="1354.0" y1="321.0" x2="1360.2" y2="409.5" stroke="#FF0000" stroke-width="3.5"/><polygon points="1361.0,420.5 1355.7,409.8 1364.7,409.2" fill="#FF0000"/>
<line x1="1361.0" y1="420.0" x2="1368.3" y2="409.7" stroke="#FF0000" stroke-width="3.6"/><polygon points="1375.0,400.3 1371.8,412.2 1364.8,407.2" fill="#FF0000"/>
</g>
<g shape-rendering="crispEdges">
<rect x="1457" y="409" width="8" height="1" fill="#FF0000"/>
<rect x="1464.5" y="406.5" width="3" height="5" fill="#fff" stroke="#FF0000" stroke-width="1"/>
<rect x="1467.5" y="397.5" width="73" height="24" fill="#fff" stroke="#FF0000" stroke-width="1"/>
</g>
<text x="1468.8" y="417.5" font-size="22" fill="#FF0000" text-anchor="start" textLength="70.3" lengthAdjust="spacingAndGlyphs" >23486.9</text>
<text x="1413.2" y="462.8" font-size="32.4" font-weight="bold" font-family="Liberation Serif, Noto Serif CJK SC, serif" fill="#000" text-anchor="start" textLength="163" lengthAdjust="spacing">多空转折点</text>
<text x="1412.2" y="461.8" font-size="32.4" font-weight="bold" font-family="Liberation Serif, Noto Serif CJK SC, serif" fill="#00FF00" text-anchor="start" textLength="163" lengthAdjust="spacing">多空转折点</text>
<path d="M0,33.4 L2.6,37 L0,37 Z" fill="#000"/>
<text x="7" y="37.5" font-size="9.3" fill="#000" text-anchor="start" textLength="198" lengthAdjust="spacingAndGlyphs" xml:space="preserve">HK50-,Daily&#160;&#160;23592.0 23793.0 23521.0 23755.0</text>
<g shape-rendering="crispEdges">
<rect x="0" y="46" width="47" height="25" fill="url(#gtab)"/>
<rect x="162" y="46" width="52" height="25" fill="url(#gtab)"/>
<rect x="0" y="70" width="104" height="40" fill="url(#gblk)"/>
<rect x="106" y="70" width="108" height="40" fill="url(#gblk)"/>
<rect x="0" y="69" width="43" height="1" fill="#F7A0A0"/>
<rect x="166" y="69" width="44" height="1" fill="#F7A0A0"/>
<rect x="49.5" y="46.5" width="110" height="21" fill="#fff" stroke="#ABABC0" stroke-width="1"/>
<rect x="51" y="48" width="19" height="18" fill="url(#gbtn)"/>
<rect x="139" y="48" width="20" height="18" fill="url(#gbtn)"/>
<rect x="70" y="47" width="1" height="20" fill="#C8C8D4"/>
<rect x="138" y="47" width="1" height="20" fill="#C8C8D4"/>
</g>
<path d="M57.5,55 L62.5,55 L60,58 Z" fill="#4A5BC8"/>
<path d="M146,58 L151,58 L148.5,55 Z" fill="#4A5BC8"/>
<text x="134.3" y="61" font-size="11.5" fill="#000" text-anchor="end" >1.00</text>
<text x="7.4" y="61.3" font-size="10.5" fill="#fff" text-anchor="start" textLength="25.4" lengthAdjust="spacingAndGlyphs" >SELL</text>
<text x="175.4" y="61.3" font-size="10.5" fill="#fff" text-anchor="start" textLength="22.4" lengthAdjust="spacingAndGlyphs" >BUY</text>
<text x="11.4" y="101" font-size="11.5" fill="#fff" text-anchor="start" font-weight="bold" textLength="34" lengthAdjust="spacingAndGlyphs" >23753</text>
<text x="121" y="101" font-size="11.5" fill="#fff" text-anchor="start" font-weight="bold" textLength="34.7" lengthAdjust="spacingAndGlyphs" >23772</text>
<rect x="50.3" y="97.6" width="4.2" height="4.2" fill="#fff"/>
<text x="57.6" y="101.6" font-size="33.5" fill="#fff" text-anchor="start" textLength="15.4" lengthAdjust="spacingAndGlyphs" >5</text>
<rect x="161.2" y="97.6" width="4.2" height="4.2" fill="#fff"/>
<text x="168.6" y="101.6" font-size="33.5" fill="#fff" text-anchor="start" textLength="15.4" lengthAdjust="spacingAndGlyphs" >5</text>
<g clip-path="url(#cmacd)" shape-rendering="crispEdges">
<rect x="0" y="629" width="1" height="43" fill="#C0C0C0"/>
<rect x="8" y="629" width="1" height="43" fill="#C0C0C0"/>
<rect x="16" y="629" width="1" height="43" fill="#C0C0C0"/>
<rect x="24" y="629" width="1" height="42" fill="#C0C0C0"/>
<rect x="32" y="629" width="1" height="41" fill="#C0C0C0"/>
<rect x="40" y="629" width="1" height="40" fill="#C0C0C0"/>
<rect x="48" y="629" width="1" height="39" fill="#C0C0C0"/>
<rect x="56" y="629" width="1" height="38" fill="#C0C0C0"/>
<rect x="64" y="629" width="1" height="30" fill="#C0C0C0"/>
<rect x="72" y="629" width="1" height="23" fill="#C0C0C0"/>
<rect x="80" y="629" width="1" height="18" fill="#C0C0C0"/>
<rect x="88" y="629" width="1" height="12" fill="#C0C0C0"/>
<rect x="96" y="629" width="1" height="8" fill="#C0C0C0"/>
<rect x="112" y="625" width="1" height="5" fill="#C0C0C0"/>
<rect x="120" y="620" width="1" height="10" fill="#C0C0C0"/>
<rect x="128" y="617" width="1" height="13" fill="#C0C0C0"/>
<rect x="136" y="618" width="1" height="12" fill="#C0C0C0"/>
<rect x="144" y="618" width="1" height="12" fill="#C0C0C0"/>
<rect x="152" y="620" width="1" height="10" fill="#C0C0C0"/>
<rect x="160" y="623" width="1" height="7" fill="#C0C0C0"/>
<rect x="168" y="626" width="1" height="4" fill="#C0C0C0"/>
<rect x="176" y="628" width="1" height="2" fill="#C0C0C0"/>
<rect x="184" y="629" width="1" height="4" fill="#C0C0C0"/>
<rect x="192" y="629" width="1" height="6" fill="#C0C0C0"/>
<rect x="200" y="629" width="1" height="8" fill="#C0C0C0"/>
<rect x="208" y="629" width="1" height="9" fill="#C0C0C0"/>
<rect x="216" y="629" width="1" height="11" fill="#C0C0C0"/>
<rect x="224" y="629" width="1" height="11" fill="#C0C0C0"/>
<rect x="232" y="629" width="1" height="13" fill="#C0C0C0"/>
<rect x="240" y="629" width="1" height="14" fill="#C0C0C0"/>
<rect x="248" y="629" width="1" height="16" fill="#C0C0C0"/>
<rect x="256" y="629" width="1" height="16" fill="#C0C0C0"/>
<rect x="264" y="629" width="1" height="12" fill="#C0C0C0"/>
<rect x="272" y="629" width="1" height="8" fill="#C0C0C0"/>
<rect x="280" y="629" width="1" height="5" fill="#C0C0C0"/>
<rect x="288" y="629" width="1" height="2" fill="#C0C0C0"/>
<rect x="296" y="626" width="1" height="4" fill="#C0C0C0"/>
<rect x="304" y="624" width="1" height="6" fill="#C0C0C0"/>
<rect x="312" y="622" width="1" height="8" fill="#C0C0C0"/>
<rect x="320" y="621" width="1" height="9" fill="#C0C0C0"/>
<rect x="328" y="621" width="1" height="9" fill="#C0C0C0"/>
<rect x="336" y="620" width="1" height="10" fill="#C0C0C0"/>
<rect x="344" y="620" width="1" height="10" fill="#C0C0C0"/>
<rect x="352" y="618" width="1" height="12" fill="#C0C0C0"/>
<rect x="360" y="618" width="1" height="12" fill="#C0C0C0"/>
<rect x="368" y="618" width="1" height="12" fill="#C0C0C0"/>
<rect x="376" y="617" width="1" height="13" fill="#C0C0C0"/>
<rect x="384" y="615" width="1" height="15" fill="#C0C0C0"/>
<rect x="392" y="610" width="1" height="20" fill="#C0C0C0"/>
<rect x="400" y="606" width="1" height="24" fill="#C0C0C0"/>
<rect x="408" y="603" width="1" height="27" fill="#C0C0C0"/>
<rect x="416" y="600" width="1" height="30" fill="#C0C0C0"/>
<rect x="424" y="599" width="1" height="31" fill="#C0C0C0"/>
<rect x="432" y="604" width="1" height="26" fill="#C0C0C0"/>
<rect x="440" y="608" width="1" height="22" fill="#C0C0C0"/>
<rect x="448" y="614" width="1" height="16" fill="#C0C0C0"/>
<rect x="456" y="621" width="1" height="9" fill="#C0C0C0"/>
<rect x="464" y="626" width="1" height="4" fill="#C0C0C0"/>
<rect x="472" y="628" width="1" height="2" fill="#C0C0C0"/>
<rect x="480" y="626" width="1" height="4" fill="#C0C0C0"/>
<rect x="488" y="627" width="1" height="3" fill="#C0C0C0"/>
<rect x="520" y="627" width="1" height="3" fill="#C0C0C0"/>
<rect x="528" y="628" width="1" height="2" fill="#C0C0C0"/>
<rect x="536" y="627" width="1" height="3" fill="#C0C0C0"/>
<rect x="552" y="629" width="1" height="3" fill="#C0C0C0"/>
<rect x="560" y="629" width="1" height="6" fill="#C0C0C0"/>
<rect x="568" y="629" width="1" height="10" fill="#C0C0C0"/>
<rect x="576" y="629" width="1" height="12" fill="#C0C0C0"/>
<rect x="584" y="629" width="1" height="11" fill="#C0C0C0"/>
<rect x="592" y="629" width="1" height="11" fill="#C0C0C0"/>
<rect x="600" y="629" width="1" height="11" fill="#C0C0C0"/>
<rect x="608" y="629" width="1" height="9" fill="#C0C0C0"/>
<rect x="616" y="629" width="1" height="4" fill="#C0C0C0"/>
<rect x="624" y="626" width="1" height="4" fill="#C0C0C0"/>
<rect x="632" y="621" width="1" height="9" fill="#C0C0C0"/>
<rect x="640" y="615" width="1" height="15" fill="#C0C0C0"/>
<rect x="648" y="610" width="1" height="20" fill="#C0C0C0"/>
<rect x="656" y="607" width="1" height="23" fill="#C0C0C0"/>
<rect x="664" y="604" width="1" height="26" fill="#C0C0C0"/>
<rect x="672" y="603" width="1" height="27" fill="#C0C0C0"/>
<rect x="680" y="602" width="1" height="28" fill="#C0C0C0"/>
<rect x="688" y="598" width="1" height="32" fill="#C0C0C0"/>
<rect x="696" y="595" width="1" height="35" fill="#C0C0C0"/>
<rect x="704" y="594" width="1" height="36" fill="#C0C0C0"/>
<rect x="712" y="592" width="1" height="38" fill="#C0C0C0"/>
<rect x="720" y="591" width="1" height="39" fill="#C0C0C0"/>
<rect x="728" y="593" width="1" height="37" fill="#C0C0C0"/>
<rect x="736" y="594" width="1" height="36" fill="#C0C0C0"/>
<rect x="744" y="597" width="1" height="33" fill="#C0C0C0"/>
<rect x="752" y="595" width="1" height="35" fill="#C0C0C0"/>
<rect x="760" y="595" width="1" height="35" fill="#C0C0C0"/>
<rect x="768" y="593" width="1" height="37" fill="#C0C0C0"/>
<rect x="776" y="592" width="1" height="38" fill="#C0C0C0"/>
<rect x="784" y="593" width="1" height="37" fill="#C0C0C0"/>
<rect x="792" y="593" width="1" height="37" fill="#C0C0C0"/>
<rect x="800" y="592" width="1" height="38" fill="#C0C0C0"/>
<rect x="808" y="593" width="1" height="37" fill="#C0C0C0"/>
<rect x="816" y="602" width="1" height="28" fill="#C0C0C0"/>
<rect x="824" y="605" width="1" height="25" fill="#C0C0C0"/>
<rect x="832" y="612" width="1" height="18" fill="#C0C0C0"/>
<rect x="840" y="617" width="1" height="13" fill="#C0C0C0"/>
<rect x="848" y="626" width="1" height="4" fill="#C0C0C0"/>
<rect x="856" y="629" width="1" height="10" fill="#C0C0C0"/>
<rect x="864" y="629" width="1" height="20" fill="#C0C0C0"/>
<rect x="872" y="629" width="1" height="28" fill="#C0C0C0"/>
<rect x="880" y="629" width="1" height="30" fill="#C0C0C0"/>
<rect x="888" y="629" width="1" height="32" fill="#C0C0C0"/>
<rect x="896" y="629" width="1" height="28" fill="#C0C0C0"/>
<rect x="904" y="629" width="1" height="26" fill="#C0C0C0"/>
<rect x="912" y="629" width="1" height="24" fill="#C0C0C0"/>
<rect x="920" y="629" width="1" height="20" fill="#C0C0C0"/>
<rect x="928" y="629" width="1" height="15" fill="#C0C0C0"/>
<rect x="936" y="629" width="1" height="12" fill="#C0C0C0"/>
<rect x="944" y="629" width="1" height="8" fill="#C0C0C0"/>
<rect x="952" y="629" width="1" height="6" fill="#C0C0C0"/>
<rect x="960" y="629" width="1" height="6" fill="#C0C0C0"/>
<rect x="968" y="629" width="1" height="4" fill="#C0C0C0"/>
<rect x="976" y="629" width="1" height="4" fill="#C0C0C0"/>
<rect x="984" y="629" width="1" height="7" fill="#C0C0C0"/>
<rect x="992" y="629" width="1" height="12" fill="#C0C0C0"/>
<rect x="1000" y="629" width="1" height="14" fill="#C0C0C0"/>
<rect x="1008" y="629" width="1" height="19" fill="#C0C0C0"/>
<rect x="1016" y="629" width="1" height="21" fill="#C0C0C0"/>
<rect x="1024" y="629" width="1" height="24" fill="#C0C0C0"/>
<rect x="1032" y="629" width="1" height="28" fill="#C0C0C0"/>
<rect x="1040" y="629" width="1" height="30" fill="#C0C0C0"/>
<rect x="1048" y="629" width="1" height="32" fill="#C0C0C0"/>
<rect x="1056" y="629" width="1" height="29" fill="#C0C0C0"/>
<rect x="1064" y="629" width="1" height="31" fill="#C0C0C0"/>
<rect x="1072" y="629" width="1" height="41" fill="#C0C0C0"/>
<rect x="1080" y="629" width="1" height="43" fill="#C0C0C0"/>
<rect x="1088" y="629" width="1" height="48" fill="#C0C0C0"/>
<rect x="1096" y="629" width="1" height="58" fill="#C0C0C0"/>
<rect x="1104" y="629" width="1" height="66" fill="#C0C0C0"/>
<rect x="1112" y="629" width="1" height="80" fill="#C0C0C0"/>
<rect x="1120" y="629" width="1" height="88" fill="#C0C0C0"/>
<rect x="1128" y="629" width="1" height="100" fill="#C0C0C0"/>
<rect x="1136" y="629" width="1" height="109" fill="#C0C0C0"/>
<rect x="1144" y="629" width="1" height="106" fill="#C0C0C0"/>
<rect x="1152" y="629" width="1" height="114" fill="#C0C0C0"/>
<rect x="1160" y="629" width="1" height="111" fill="#C0C0C0"/>
<rect x="1168" y="629" width="1" height="101" fill="#C0C0C0"/>
<rect x="1176" y="629" width="1" height="94" fill="#C0C0C0"/>
<rect x="1184" y="629" width="1" height="86" fill="#C0C0C0"/>
<rect x="1192" y="629" width="1" height="83" fill="#C0C0C0"/>
<rect x="1200" y="629" width="1" height="73" fill="#C0C0C0"/>
<rect x="1208" y="629" width="1" height="71" fill="#C0C0C0"/>
<rect x="1216" y="629" width="1" height="66" fill="#C0C0C0"/>
<rect x="1224" y="629" width="1" height="62" fill="#C0C0C0"/>
<rect x="1232" y="629" width="1" height="54" fill="#C0C0C0"/>
<rect x="1240" y="629" width="1" height="42" fill="#C0C0C0"/>
<rect x="1248" y="629" width="1" height="38" fill="#C0C0C0"/>
<rect x="1256" y="629" width="1" height="30" fill="#C0C0C0"/>
<rect x="1264" y="629" width="1" height="23" fill="#C0C0C0"/>
<rect x="1272" y="629" width="1" height="20" fill="#C0C0C0"/>
<rect x="1280" y="629" width="1" height="17" fill="#C0C0C0"/>
<rect x="1288" y="629" width="1" height="12" fill="#C0C0C0"/>
<rect x="1296" y="629" width="1" height="10" fill="#C0C0C0"/>
<rect x="1304" y="629" width="1" height="10" fill="#C0C0C0"/>
<rect x="1312" y="629" width="1" height="10" fill="#C0C0C0"/>
<rect x="1320" y="629" width="1" height="9" fill="#C0C0C0"/>
<rect x="1328" y="629" width="1" height="9" fill="#C0C0C0"/>
<rect x="1336" y="629" width="1" height="6" fill="#C0C0C0"/>
<rect x="1344" y="628" width="1" height="2" fill="#C0C0C0"/>
<rect x="1352" y="628" width="1" height="2" fill="#C0C0C0"/>
<rect x="1360" y="629" width="1" height="4" fill="#C0C0C0"/>
<rect x="1368" y="629" width="1" height="6" fill="#C0C0C0"/>
<polyline fill="none" stroke="#FF0000" stroke-width="1" points="0.0,686.2 12.5,682.5 25.0,677.0 35.0,674.5 45.0,671.2 60.0,669.5 75.0,665.0 85.0,661.2 100.0,653.7 112.5,646.2 125.0,637.5 137.5,630.5 150.0,625.0 162.5,622.5 175.0,621.2 187.5,622.5 200.0,625.0 212.5,628.7 225.0,632.5 237.5,635.5 250.0,638.2 262.5,640.5 275.0,640.5 287.5,639.5 300.0,635.5 312.5,633.0 325.0,629.5 337.5,625.0 350.0,622.0 362.5,620.0 375.0,619.5 387.5,618.0 400.0,615.5 408.0,613.0 420.5,610.0 433.0,606.7 445.5,606.2 458.0,606.7 470.5,610.0 483.0,614.5 495.5,618.7 508.0,623.7 520.5,626.7 533.0,627.5 545.5,628.2 558.0,629.5 570.5,630.5 583.0,633.0 595.5,634.5 608.0,636.2 618.0,637.0 628.0,635.0 640.5,632.0 653.0,626.2 665.5,620.0 678.0,613.7 690.5,607.5 703.0,603.0 715.5,598.7 728.0,596.2 740.5,594.2 753.0,593.5 765.5,593.5 775.5,592.5 788.0,593.5 816.0,593.5 826.0,595.0 836.0,598.0 846.0,602.0 856.0,608.0 866.0,615.5 876.0,625.0 886.0,633.0 896.0,640.5 906.0,647.0 916.0,651.2 923.5,653.2 933.5,653.0 943.5,650.5 953.5,648.0 963.5,643.7 973.5,641.2 983.5,638.7 993.5,637.5 1003.5,637.2 1013.5,638.2 1023.5,640.7 1033.5,644.5 1043.5,647.5 1053.5,650.5 1063.5,653.2 1073.5,656.2 1083.5,660.5 1093.5,664.5 1103.5,669.5 1113.5,676.2 1123.5,685.0 1133.5,695.0 1143.5,705.0 1153.5,715.0 1163.5,723.7 1173.5,728.2 1183.5,729.2 1193.5,728.0 1203.5,723.7 1213.5,718.0 1224.0,712.0 1234.0,703.7 1244.0,695.0 1254.0,688.7 1264.0,680.0 1274.0,672.5 1284.0,665.0 1294.0,657.0 1304.0,650.5 1314.0,646.2 1324.0,642.5 1334.0,640.5 1344.0,638.0 1354.0,635.7 1364.0,635.0 1368.0,635.0" stroke-dasharray="2.2 2.2"/>
</g>
<text x="-3" y="593.7" font-size="9.2" fill="#000" text-anchor="start" textLength="123" lengthAdjust="spacingAndGlyphs" >MACD(12,26,9) -58.17 -67.53</text>
<g clip-path="url(#crsi)" shape-rendering="crispEdges">
<line x1="-1" y1="789.5" x2="1599" y2="789.5" stroke="#C0C0C0" stroke-width="1" stroke-dasharray="3 3"/>
<line x1="-1" y1="840.5" x2="1599" y2="840.5" stroke="#C0C0C0" stroke-width="1" stroke-dasharray="3 3"/>
<line x1="-1" y1="901.5" x2="1599" y2="901.5" stroke="#C0C0C0" stroke-width="1" stroke-dasharray="3 3"/>
<polyline fill="none" stroke="#1E90FF" stroke-width="1" points="0.5,856.2 8.5,865.7 16.5,866.2 24.5,868.2 32.5,864.2 40.5,865.0 48.5,867.0 56.5,868.2 64.5,833.2 72.5,834.5 80.5,830.5 88.5,829.2 96.5,829.2 104.5,817.0 112.5,818.2 120.5,813.2 128.5,823.7 136.5,834.2 144.5,834.2 152.5,843.0 160.5,844.2 168.5,853.0 176.5,847.5 184.5,858.0 192.5,854.2 200.5,854.2 208.5,852.0 216.5,855.5 224.5,847.5 232.5,858.2 240.5,855.0 248.5,860.0 256.5,854.5 264.5,833.7 272.5,830.0 280.5,832.0 288.5,828.2 296.5,821.2 304.5,829.5 312.5,828.2 320.5,826.2 328.5,836.2 336.5,829.2 344.5,831.2 352.5,825.0 360.5,831.2 368.5,836.2 376.5,825.0 384.5,820.0 392.5,810.0 400.5,808.0 408.5,806.7 416.5,805.0 424.5,811.2 432.5,838.0 440.5,839.2 448.5,852.5 456.5,856.7 464.5,859.2 472.5,844.5 480.5,834.2 488.5,841.2 496.5,850.0 504.5,845.5 512.5,835.5 520.5,836.2 528.5,835.2 536.5,838.7 544.5,853.0 552.5,849.2 560.5,850.7 568.5,859.2 576.5,853.0 584.5,845.2 592.5,845.2 600.5,847.5 608.5,840.5 616.5,829.5 624.5,815.0 632.5,819.2 640.5,814.5 648.5,813.2 656.5,817.5 664.5,814.2 672.5,817.5 680.5,815.5 688.5,807.5 696.5,806.2 704.5,811.2 712.5,805.2 720.5,811.7 728.5,822.5 736.5,818.0 744.5,829.2 752.5,817.5 760.5,816.2 768.5,810.2 776.5,816.2 784.5,818.2 792.5,815.5 800.5,811.0 808.5,825.0 816.5,847.0 824.5,838.2 832.5,848.0 840.5,847.0 848.5,861.2 856.5,872.0 864.5,873.2 872.5,874.2 880.5,858.0 888.5,859.2 896.5,844.2 904.5,846.2 912.5,850.0 920.5,838.7 928.5,835.2 936.5,838.2 944.5,836.2 952.5,834.2 960.5,844.0 968.5,840.0 976.5,844.5 984.5,849.2 992.5,860.0 1000.5,857.0 1008.5,861.0 1016.5,857.0 1024.5,867.0 1032.5,863.2 1040.5,862.2 1048.5,865.2 1056.5,848.2 1064.5,862.5 1072.5,877.2 1080.5,863.2 1088.5,866.5 1096.5,878.0 1104.5,879.2 1112.5,888.0 1120.5,882.2 1128.5,888.0 1136.5,889.2 1144.5,866.2 1152.5,878.0 1160.5,861.2 1168.5,851.0 1176.5,854.2 1184.5,851.0 1192.5,855.0 1200.5,847.2 1208.5,854.0 1216.5,850.2 1224.5,851.2 1232.5,844.5 1240.5,836.2 1248.5,844.2 1256.5,839.5 1264.5,836.2 1272.5,840.7 1280.5,842.2 1288.5,837.2 1296.5,838.2 1304.5,845.2 1312.5,843.2 1320.5,842.2 1328.5,846.2 1336.5,838.0 1344.5,832.0 1352.5,834.2 1360.5,851.2 1368.5,846.0" />
</g>
<text x="-3" y="765.7" font-size="9.2" fill="#000" text-anchor="start" textLength="67" lengthAdjust="spacingAndGlyphs" >RSI(14) 47.5977</text>
<g shape-rendering="crispEdges" fill="#000">
<rect x="0" y="26" width="1600" height="1"/>
<rect x="1599" y="26" width="1" height="554"/>
<rect x="0" y="579" width="1600" height="1"/>
<rect x="0" y="581" width="1600" height="1"/>
<rect x="1599" y="581" width="1" height="171"/>
<rect x="0" y="751" width="1600" height="1"/>
<rect x="0" y="753" width="1600" height="1"/>
<rect x="1599" y="753" width="1" height="175"/>
<rect x="0" y="927" width="1600" height="1"/>
<rect x="1600" y="48" width="2" height="1"/>
<rect x="1600" y="81" width="2" height="1"/>
<rect x="1600" y="114" width="2" height="1"/>
<rect x="1600" y="147" width="2" height="1"/>
<rect x="1600" y="180" width="2" height="1"/>
<rect x="1600" y="213" width="2" height="1"/>
<rect x="1600" y="246" width="2" height="1"/>
<rect x="1600" y="279" width="2" height="1"/>
<rect x="1600" y="312" width="2" height="1"/>
<rect x="1600" y="345" width="2" height="1"/>
<rect x="1600" y="378" width="2" height="1"/>
<rect x="1600" y="411" width="2" height="1"/>
<rect x="1600" y="444" width="2" height="1"/>
<rect x="1600" y="477" width="2" height="1"/>
<rect x="1600" y="510" width="2" height="1"/>
<rect x="1600" y="543" width="2" height="1"/>
<rect x="1600" y="576" width="2" height="1"/>
<rect x="1600" y="583" width="2" height="1"/>
<rect x="1600" y="629" width="2" height="1"/>
<rect x="1600" y="749" width="2" height="1"/>
<rect x="1600" y="755" width="2" height="1"/>
<rect x="1600" y="925" width="2" height="1"/>
<rect x="56" y="928" width="1" height="3"/>
<rect x="120" y="928" width="1" height="3"/>
<rect x="184" y="928" width="1" height="3"/>
<rect x="248" y="928" width="1" height="3"/>
<rect x="312" y="928" width="1" height="3"/>
<rect x="376" y="928" width="1" height="3"/>
<rect x="440" y="928" width="1" height="3"/>
<rect x="504" y="928" width="1" height="3"/>
<rect x="568" y="928" width="1" height="3"/>
<rect x="632" y="928" width="1" height="3"/>
<rect x="696" y="928" width="1" height="3"/>
<rect x="760" y="928" width="1" height="3"/>
<rect x="824" y="928" width="1" height="3"/>
<rect x="888" y="928" width="1" height="3"/>
<rect x="952" y="928" width="1" height="3"/>
<rect x="1016" y="928" width="1" height="3"/>
<rect x="1080" y="928" width="1" height="3"/>
<rect x="1144" y="928" width="1" height="3"/>
<rect x="1208" y="928" width="1" height="3"/>
<rect x="1272" y="928" width="1" height="3"/>
<rect x="1336" y="928" width="1" height="3"/>
</g>
<text x="1605" y="51.7" font-size="9" fill="#000" text-anchor="start" textLength="33" lengthAdjust="spacingAndGlyphs" >29298.0</text>
<text x="1605" y="84.7" font-size="9" fill="#000" text-anchor="start" textLength="33" lengthAdjust="spacingAndGlyphs" >28770.0</text>
<text x="1605" y="117.7" font-size="9" fill="#000" text-anchor="start" textLength="33" lengthAdjust="spacingAndGlyphs" >28242.0</text>
<text x="1605" y="150.7" font-size="9" fill="#000" text-anchor="start" textLength="33" lengthAdjust="spacingAndGlyphs" >27698.0</text>
<text x="1605" y="183.7" font-size="9" fill="#000" text-anchor="start" textLength="33" lengthAdjust="spacingAndGlyphs" >27170.0</text>
<text x="1605" y="216.7" font-size="9" fill="#000" text-anchor="start" textLength="33" lengthAdjust="spacingAndGlyphs" >26642.0</text>
<text x="1605" y="249.7" font-size="9" fill="#000" text-anchor="start" textLength="33" lengthAdjust="spacingAndGlyphs" >26114.0</text>
<text x="1605" y="282.7" font-size="9" fill="#000" text-anchor="start" textLength="33" lengthAdjust="spacingAndGlyphs" >25570.0</text>
<text x="1605" y="315.7" font-size="9" fill="#000" text-anchor="start" textLength="33" lengthAdjust="spacingAndGlyphs" >25042.0</text>
<text x="1605" y="348.7" font-size="9" fill="#000" text-anchor="start" textLength="33" lengthAdjust="spacingAndGlyphs" >24514.0</text>
<text x="1605" y="381.7" font-size="9" fill="#000" text-anchor="start" textLength="33" lengthAdjust="spacingAndGlyphs" >23986.0</text>
<text x="1605" y="414.7" font-size="9" fill="#000" text-anchor="start" textLength="33" lengthAdjust="spacingAndGlyphs" >23458.0</text>
<text x="1605" y="447.7" font-size="9" fill="#000" text-anchor="start" textLength="33" lengthAdjust="spacingAndGlyphs" >22930.0</text>
<text x="1605" y="480.7" font-size="9" fill="#000" text-anchor="start" textLength="33" lengthAdjust="spacingAndGlyphs" >22386.0</text>
<text x="1605" y="513.7" font-size="9" fill="#000" text-anchor="start" textLength="33" lengthAdjust="spacingAndGlyphs" >21858.0</text>
<text x="1605" y="546.7" font-size="9" fill="#000" text-anchor="start" textLength="33" lengthAdjust="spacingAndGlyphs" >21330.0</text>
<text x="1605" y="579.7" font-size="9" fill="#000" text-anchor="start" textLength="33" lengthAdjust="spacingAndGlyphs" >20802.0</text>
<text x="1603" y="591.8" font-size="9" fill="#000" text-anchor="start" >536.18</text>
<text x="1603" y="632.8" font-size="9" fill="#000" text-anchor="start" >0.00</text>
<text x="1603" y="748.3" font-size="9" fill="#000" text-anchor="start" >-1412.34</text>
<text x="1603" y="763.8" font-size="9" fill="#000" text-anchor="start" >100</text>
<text x="1603" y="792.8" font-size="9" fill="#000" text-anchor="start" >80</text>
<text x="1603" y="843.8" font-size="9" fill="#000" text-anchor="start" >50</text>
<text x="1603" y="904.5" font-size="9" fill="#000" text-anchor="start" >15</text>
<text x="1603" y="923.8" font-size="9" fill="#000" text-anchor="start" >0</text>
<text x="-8" y="939.7" font-size="9.2" fill="#000" text-anchor="start" >22 Aug 2019</text>
<text x="56" y="939.7" font-size="9.2" fill="#000" text-anchor="start" >3 Sep 2019</text>
<text x="120" y="939.7" font-size="9.2" fill="#000" text-anchor="start" >13 Sep 2019</text>
<text x="184" y="939.7" font-size="9.2" fill="#000" text-anchor="start" >25 Sep 2019</text>
<text x="248" y="939.7" font-size="9.2" fill="#000" text-anchor="start" >9 Oct 2019</text>
<text x="312" y="939.7" font-size="9.2" fill="#000" text-anchor="start" >21 Oct 2019</text>
<text x="376" y="939.7" font-size="9.2" fill="#000" text-anchor="start" >31 Oct 2019</text>
<text x="440" y="939.7" font-size="9.2" fill="#000" text-anchor="start" >12 Nov 2019</text>
<text x="504" y="939.7" font-size="9.2" fill="#000" text-anchor="start" >22 Nov 2019</text>
<text x="568" y="939.7" font-size="9.2" fill="#000" text-anchor="start" >4 Dec 2019</text>
<text x="632" y="939.7" font-size="9.2" fill="#000" text-anchor="start" >16 Dec 2019</text>
<text x="696" y="939.7" font-size="9.2" fill="#000" text-anchor="start" >30 Dec 2019</text>
<text x="760" y="939.7" font-size="9.2" fill="#000" text-anchor="start" >10 Jan 2020</text>
<text x="824" y="939.7" font-size="9.2" fill="#000" text-anchor="start" >22 Jan 2020</text>
<text x="888" y="939.7" font-size="9.2" fill="#000" text-anchor="start" >5 Feb 2020</text>
<text x="952" y="939.7" font-size="9.2" fill="#000" text-anchor="start" >17 Feb 2020</text>
<text x="1016" y="939.7" font-size="9.2" fill="#000" text-anchor="start" >27 Feb 2020</text>
<text x="1080" y="939.7" font-size="9.2" fill="#000" text-anchor="start" >10 Mar 2020</text>
<text x="1144" y="939.7" font-size="9.2" fill="#000" text-anchor="start" >20 Mar 2020</text>
<text x="1208" y="939.7" font-size="9.2" fill="#000" text-anchor="start" >1 Apr 2020</text>
<text x="1272" y="939.7" font-size="9.2" fill="#000" text-anchor="start" >15 Apr 2020</text>
<text x="1336" y="939.7" font-size="9.2" fill="#000" text-anchor="start" >27 Apr 2020</text>
<g shape-rendering="crispEdges">
<rect x="1601" y="344" width="41" height="11" fill="#FF0000"/><rect x="1594.5" y="348.5" width="4" height="4" fill="#fff" stroke="#FF0000" stroke-width="1"/>
<rect x="1601" y="365" width="41" height="11" fill="#FF0000"/><rect x="1594.5" y="369.5" width="4" height="4" fill="#fff" stroke="#FF0000" stroke-width="1"/>
<rect x="1601" y="387" width="41" height="11" fill="#000000"/>
<rect x="1601" y="403" width="41" height="11" fill="#32CD32"/><rect x="1594.5" y="407.5" width="4" height="4" fill="#fff" stroke="#32CD32" stroke-width="1"/>
<rect x="1601" y="421" width="41" height="11" fill="#0000FF"/><rect x="1594.5" y="425.5" width="4" height="4" fill="#fff" stroke="#0000FF" stroke-width="1"/>
<rect x="1601" y="438" width="41" height="11" fill="#0000FF"/>
</g>
<text x="1605" y="353" font-size="9" fill="#fff" text-anchor="start" textLength="33" lengthAdjust="spacingAndGlyphs" >24435.4</text>
<text x="1605" y="374" font-size="9" fill="#fff" text-anchor="start" textLength="33" lengthAdjust="spacingAndGlyphs" >24097.8</text>
<text x="1605" y="396" font-size="9" fill="#fff" text-anchor="start" textLength="33" lengthAdjust="spacingAndGlyphs" >23755.0</text>
<text x="1605" y="412" font-size="9" fill="#fff" text-anchor="start" textLength="33" lengthAdjust="spacingAndGlyphs" >23486.9</text>
<text x="1605" y="430" font-size="9" fill="#fff" text-anchor="start" textLength="33" lengthAdjust="spacingAndGlyphs" >23197.6</text>
<text x="1605" y="447" font-size="9" fill="#fff" text-anchor="start" textLength="33" lengthAdjust="spacingAndGlyphs" >22924.3</text>
<path d="M1384,27 L1393,27 L1388.5,32 Z" fill="#C0C0C0"/>
<g shape-rendering="crispEdges">
<rect x="0" y="0" width="1646" height="22" fill="#F0F0F0"/>
<rect x="0" y="22" width="1646" height="1" fill="#A0A0A0"/>
<rect x="0" y="23" width="1646" height="1" fill="#696969"/>
<rect x="1645" y="24" width="1" height="923" fill="#E3E3E3"/>
</g>
<text x="-0.8" y="13.6" font-size="12.6" font-family="Liberation Sans, Noto Sans CJK SC, sans-serif" fill="#000" stroke="#000" stroke-width="0.35" text-anchor="start" textLength="25.4" lengthAdjust="spacing">订单</text>
<text x="141" y="13.6" font-size="12" font-family="Liberation Sans, Noto Sans CJK SC, sans-serif" fill="#000" stroke="#000" stroke-width="0.35" text-anchor="start" textLength="47.1" lengthAdjust="spacing">自动交易</text>
<path d="M43.2,3 L53,10.4 L45,17.8 L37.3,12.4 Z" fill="#9C650A"/><path d="M43.2,3 L52.4,10 L45.2,16 L38.2,11.4 Z" fill="#E9B214"/><path d="M43.2,3.6 L49.8,8.6 L44,13.4 L39.4,10.6 Z" fill="#F8D84A"/><path d="M42.6,4.4 L46,7 L42.4,10.4 L40.2,9.4 Z" fill="#FCEB8E" opacity="0.8"/>
<rect x="67.2" y="2.2" width="10.6" height="10" rx="1" fill="#2B8AE6"/><rect x="70.6" y="4" width="6" height="6.5" fill="#CFE6FB"/><rect x="71.4" y="5.6" width="4.4" height="1" fill="#2B8AE6"/><path d="M67.2,17.4 a3,3 0 0 1 0.6,-5.8 a3.6,3.6 0 0 1 6.6,-1.2 a3,3 0 0 1 4.2,2 a2.6,2.6 0 0 1 -0.4,5 Z" fill="#E4ECF6" stroke="#6E8CC4" stroke-width="0.8"/>
<circle cx="100.9" cy="9.7" r="7.6" fill="#E9EEF2" stroke="#B9C7D9" stroke-width="0.8"/><path d="M100.9,2.6 a7.1,7.1 0 0 0 0,14.2" fill="none" stroke="#6F93D6" stroke-width="1.1"/><path d="M100.9,5.2 a4.5,4.5 0 0 0 0,9" fill="none" stroke="#4F7BD0" stroke-width="1.1"/><path d="M100.9,2.6 a7.1,7.1 0 0 1 0,14.2 M100.9,5.2 a4.5,4.5 0 0 1 0,9" fill="none" stroke="#9CC0A0" stroke-width="1.1"/><circle cx="100.9" cy="9.7" r="1.7" fill="#2F5FC8"/><path d="M101.2,9.7 V17.3" stroke="#2FA83C" stroke-width="1.3"/>
<path d="M121.2,9 L135.6,9 L128.2,16.8 Z" fill="#F6CE3A"/><path d="M121.2,9 L128.5,9 L128.2,16.8 Z" fill="#FBE37A"/><ellipse cx="128.2" cy="7.6" rx="7.6" ry="2.4" fill="#3E86C9"/><ellipse cx="128.2" cy="5.2" rx="4" ry="3" fill="#62A6E2"/><circle cx="132.2" cy="13.7" r="3.9" fill="#DC1E14"/><rect x="130.8" y="12.3" width="2.8" height="2.8" fill="#fff"/>
<rect x="196" y="1" width="1" height="20" fill="#A0A0A0" shape-rendering="crispEdges"/><rect x="197" y="1" width="1" height="20" fill="#FFFFFF" shape-rendering="crispEdges"/>
<g shape-rendering="crispEdges"><rect x="200" y="0" width="3" height="1" fill="#A6A6A6"/><rect x="200" y="2" width="3" height="1" fill="#A6A6A6"/><rect x="200" y="4" width="3" height="1" fill="#A6A6A6"/><rect x="200" y="6" width="3" height="1" fill="#A6A6A6"/><rect x="200" y="8" width="3" height="1" fill="#A6A6A6"/><rect x="200" y="10" width="3" height="1" fill="#A6A6A6"/><rect x="200" y="12" width="3" height="1" fill="#A6A6A6"/><rect x="200" y="14" width="3" height="1" fill="#A6A6A6"/><rect x="200" y="16" width="3" height="1" fill="#A6A6A6"/><rect x="200" y="18" width="3" height="1" fill="#A6A6A6"/></g>
<path d="M214.5,4.5 V17.8 M212,15.5 H225" stroke="#454545" stroke-width="1.1" fill="none"/><path d="M212.7,5.7 L214.5,3.5 L216.3,5.7 Z M223.8,13.7 L226,15.5 L223.8,17.3 Z" fill="#454545"/>
<path d="M220.7,5.8 V13.2 M220.7,6.3 H223 M218.4,12.4 H220.7" stroke="#0E8E12" stroke-width="1.2" fill="none"/>
<rect x="234" y="0" width="25" height="21" fill="#FAFAFA" shape-rendering="crispEdges"/><rect x="234" y="0" width="1" height="21" fill="#B8B8B8" shape-rendering="crispEdges"/>
<path d="M242.5,4.5 V17.8 M240,15.5 H253" stroke="#454545" stroke-width="1.1" fill="none"/><path d="M240.7,5.7 L242.5,3.5 L244.3,5.7 Z M251.8,13.7 L254,15.5 L251.8,17.3 Z" fill="#454545"/>
<path d="M248.6,2.2 V13.8" stroke="#0E8E12" stroke-width="1.2"/><rect x="246.5" y="4.4" width="4.3" height="7.2" fill="#35D648" stroke="#0E8E12" stroke-width="0.9"/>
<path d="M270.5,4.5 V17.8 M268,15.5 H281" stroke="#454545" stroke-width="1.1" fill="none"/><path d="M268.7,5.7 L270.5,3.5 L272.3,5.7 Z M279.8,13.7 L282,15.5 L279.8,17.3 Z" fill="#454545"/>
<path d="M269.2,12.9 C272,9 274,6.6 275.6,7.2 C277.4,8 279,10.2 280.8,11" stroke="#0E8E12" stroke-width="1.2" fill="none"/>
<rect x="291" y="1" width="1" height="20" fill="#A0A0A0" shape-rendering="crispEdges"/><rect x="292" y="1" width="1" height="20" fill="#FFFFFF" shape-rendering="crispEdges"/>
<path d="M310.3,12.2 L315.1,16.8" stroke="#C89A1C" stroke-width="2.6" stroke-linecap="round"/><circle cx="306.1" cy="7.9" r="5.3" fill="#D4EAFA" stroke="#3273D2" stroke-width="1.3"/><path d="M303.1,7.9 H309.1 M306.1,4.9 V10.9" stroke="#4D86B8" stroke-width="1.6"/>
<path d="M337.9,12.2 L342.7,16.8" stroke="#C89A1C" stroke-width="2.6" stroke-linecap="round"/><circle cx="333.7" cy="7.9" r="5.3" fill="#D4EAFA" stroke="#3273D2" stroke-width="1.3"/><path d="M330.7,7.9 H336.7" stroke="#4D86B8" stroke-width="1.6"/>
<g shape-rendering="crispEdges"><rect x="356" y="2" width="8" height="7" fill="#3FAF3F"/><rect x="365" y="2" width="7" height="7" fill="#2E6FD8"/><rect x="356" y="10" width="8" height="8" fill="#2E6FD8"/><rect x="365" y="10" width="7" height="8" fill="#3FAF3F"/><rect x="357" y="5" width="6" height="2" fill="#DDF2DD"/><rect x="366" y="5" width="5" height="2" fill="#DCE8FA"/><rect x="357" y="13" width="6" height="2" fill="#DCE8FA"/><rect x="366" y="13" width="5" height="2" fill="#DDF2DD"/></g>
<rect x="381" y="1" width="1" height="20" fill="#A0A0A0" shape-rendering="crispEdges"/><rect x="382" y="1" width="1" height="20" fill="#FFFFFF" shape-rendering="crispEdges"/>
<rect x="386" y="0" width="24" height="21" fill="#FAFAFA" shape-rendering="crispEdges"/><rect x="386" y="0" width="1" height="21" fill="#B8B8B8" shape-rendering="crispEdges"/>
<path d="M394.5,4.5 V17.8 M392,15.5 H405" stroke="#454545" stroke-width="1.1" fill="none"/><path d="M392.7,5.7 L394.5,3.5 L396.3,5.7 Z M403.8,13.7 L406,15.5 L403.8,17.3 Z" fill="#454545"/>
<path d="M399.4,6.2 L404.2,9.6 L399.4,13 Z" fill="#2DB83A" stroke="#0E8E12" stroke-width="0.6"/>
<rect x="415" y="0" width="24" height="21" fill="#FAFAFA" shape-rendering="crispEdges"/><rect x="415" y="0" width="1" height="21" fill="#B8B8B8" shape-rendering="crispEdges"/>
<path d="M422.5,4.5 V17.8 M420,15.5 H433" stroke="#454545" stroke-width="1.1" fill="none"/><path d="M420.7,5.7 L422.5,3.5 L424.3,5.7 Z M431.8,13.7 L434,15.5 L431.8,17.3 Z" fill="#454545"/>
<path d="M428.5,3.8 V13.2" stroke="#2F6ED2" stroke-width="1.1"/><path d="M429.6,9 L432.4,6.8 V8.4 H434.4 V9.6 H432.4 V11.2 Z" fill="#D8320E"/>
<rect x="443" y="1" width="1" height="20" fill="#A0A0A0" shape-rendering="crispEdges"/><rect x="444" y="1" width="1" height="20" fill="#FFFFFF" shape-rendering="crispEdges"/>
<path d="M453.4,2.4 H459.4 L462.2,5 V14.6 H453.4 Z" fill="#FBFBFB" stroke="#7A7A7A" stroke-width="0.9"/><path d="M457.6,5.6 q-1.4,-0.3 -1.4,1.4 V11.6 M455,8 H457.6" stroke="#555" stroke-width="0.9" fill="none"/><path d="M462.3,9 H465 V12.2 H468.6 V15 H465 V18.6 H462.3 V15 H458.8 V12.2 H462.3 Z" fill="#22B822" stroke="#0C8A0C" stroke-width="0.6"/>
<path d="M475,9 h5 l-2.5,3 Z" fill="#000"/>
<circle cx="498.7" cy="9.6" r="7.4" fill="#F6FAFE" stroke="#1F5FCB" stroke-width="2"/><path d="M498.7,5.2 V9.8 H502" stroke="#555" stroke-width="1" fill="none"/>
<path d="M514,9 h5 l-2.5,3 Z" fill="#000"/>
<rect x="530.6" y="3" width="15" height="13.4" fill="#F4F8FC" stroke="#3E6FC0" stroke-width="1"/><rect x="530.2" y="2.6" width="15.8" height="2.4" fill="#2E6BD0"/><path d="M532.4,9.4 l2.6,-1 l2.6,0.8 l2.6,-1.4 l3,-0.6" stroke="#D02818" stroke-width="1" fill="none"/><path d="M532.4,13.8 l2.6,-1.2 l2.6,1 l2.6,-1.6 l3,0.8" stroke="#1EA01E" stroke-width="1" fill="none"/>
<path d="M553,9 h5 l-2.5,3 Z" fill="#000"/>
<rect x="563" y="1" width="1" height="20" fill="#A0A0A0" shape-rendering="crispEdges"/><rect x="564" y="1" width="1" height="20" fill="#FFFFFF" shape-rendering="crispEdges"/>
<g shape-rendering="crispEdges"><rect x="567" y="0" width="3" height="1" fill="#A6A6A6"/><rect x="567" y="2" width="3" height="1" fill="#A6A6A6"/><rect x="567" y="4" width="3" height="1" fill="#A6A6A6"/><rect x="567" y="6" width="3" height="1" fill="#A6A6A6"/><rect x="567" y="8" width="3" height="1" fill="#A6A6A6"/><rect x="567" y="10" width="3" height="1" fill="#A6A6A6"/><rect x="567" y="12" width="3" height="1" fill="#A6A6A6"/><rect x="567" y="14" width="3" height="1" fill="#A6A6A6"/><rect x="567" y="16" width="3" height="1" fill="#A6A6A6"/><rect x="567" y="18" width="3" height="1" fill="#A6A6A6"/></g>
<rect x="575" y="0" width="24" height="21" fill="#FAFAFA" shape-rendering="crispEdges"/><rect x="575" y="0" width="1" height="21" fill="#B8B8B8" shape-rendering="crispEdges"/>
<path d="M582.2,2.6 V14.6 L585,12 L587.2,16.8 L589,16 L586.8,11.4 L590.4,11 Z" fill="#3A3A3A"/>
<path d="M614.5,2.8 V17 M607,10 H622" stroke="#3A3A3A" stroke-width="1"/>
<rect x="631" y="1" width="1" height="20" fill="#A0A0A0" shape-rendering="crispEdges"/><rect x="632" y="1" width="1" height="20" fill="#FFFFFF" shape-rendering="crispEdges"/>
<path d="M648.5,4 V17" stroke="#3A3A3A" stroke-width="1.1"/><path d="M671,10.2 H683.2" stroke="#3A3A3A" stroke-width="1.1"/><path d="M699,16.8 L711.2,4.6" stroke="#3A3A3A" stroke-width="1.1"/>
<path d="M724.6,11.8 L733,3.8 M730,16.8 L739.2,8.2" stroke="#3E3E3E" stroke-width="1"/><path d="M728.6,9.4 L727.3,16.3 M732.9,4.9 L730.9,14.6 M736.8,2 L735.1,12.2" stroke="#3E3E3E" stroke-width="1"/><path d="M726.4,13.6 L729.6,11.4 M730.2,9.6 L733.6,7.2 M734.2,6 L737.6,3.8" stroke="#3E3E3E" stroke-width="0.9"/>
<path d="M736,14.2 h4.1 v1 h-2.9 v0.8 h2.6 v1 h-2.6 v0.8 h3 v1 h-4.2 Z" fill="#2E2E2E"/>
<path d="M754,3.5 H767" stroke="#4A4A4A" stroke-width="1" stroke-dasharray="1 1" shape-rendering="crispEdges"/>
<path d="M754,6.5 H767" stroke="#4A4A4A" stroke-width="1" stroke-dasharray="1 1" shape-rendering="crispEdges"/>
<path d="M754,10.5 H767" stroke="#4A4A4A" stroke-width="1" stroke-dasharray="1 1" shape-rendering="crispEdges"/>
<path d="M754,14.5 H763" stroke="#4A4A4A" stroke-width="1" stroke-dasharray="1 1" shape-rendering="crispEdges"/>
<path d="M764,14.2 h4 v1 h-2.8 v0.9 h2.4 v1 h-2.4 v1.7 h-1.2 Z" fill="#2E2E2E"/>
<text x="784.9" y="14.8" font-size="11.9" fill="#444" text-anchor="start" textLength="7.8" lengthAdjust="spacingAndGlyphs" stroke="#444" stroke-width="0.35">A</text>
<rect x="811.5" y="4.5" width="11" height="12" fill="none" stroke="#555" stroke-width="1" stroke-dasharray="1 1" shape-rendering="crispEdges"/>
<path d="M813.1,6.8 h7.8 v1.1 h-3.2 v6.9 h-1.5 v-6.9 h-3.1 Z" fill="#4A4A4A"/>
<path d="M838.4,7.4 L841.4,4 L844.4,7.4 Z M845.2,13.6 L848.4,17 L851.6,13.6 L848.4,11.6 Z M838.6,9.6 L841.4,8 L844.2,9.6 Z" fill="#3A3A3A"/><path d="M840,11.4 L842.4,13.6 L846.4,8.8" stroke="#3A3A3A" stroke-width="1.2" fill="none"/>
<path d="M859,9 h5 l-2.5,3 Z" fill="#000"/>
<rect x="870" y="1" width="1" height="20" fill="#A0A0A0" shape-rendering="crispEdges"/><rect x="871" y="1" width="1" height="20" fill="#FFFFFF" shape-rendering="crispEdges"/>
<g shape-rendering="crispEdges"><rect x="874" y="0" width="3" height="1" fill="#A6A6A6"/><rect x="874" y="2" width="3" height="1" fill="#A6A6A6"/><rect x="874" y="4" width="3" height="1" fill="#A6A6A6"/><rect x="874" y="6" width="3" height="1" fill="#A6A6A6"/><rect x="874" y="8" width="3" height="1" fill="#A6A6A6"/><rect x="874" y="10" width="3" height="1" fill="#A6A6A6"/><rect x="874" y="12" width="3" height="1" fill="#A6A6A6"/><rect x="874" y="14" width="3" height="1" fill="#A6A6A6"/><rect x="874" y="16" width="3" height="1" fill="#A6A6A6"/><rect x="874" y="18" width="3" height="1" fill="#A6A6A6"/></g>
<rect x="1048" y="0" width="25" height="21" fill="#FAFAFA" shape-rendering="crispEdges"/><rect x="1048" y="0" width="1" height="21" fill="#B8B8B8" shape-rendering="crispEdges"/>
<text x="885.5" y="13.4" font-size="9.4" fill="#3C3C3C" text-anchor="start" textLength="13.1" lengthAdjust="spacingAndGlyphs" >M1</text>
<text x="913.4" y="13.4" font-size="9.4" fill="#3C3C3C" text-anchor="start" textLength="13.1" lengthAdjust="spacingAndGlyphs" >M5</text>
<text x="939.3" y="13.4" font-size="9.4" fill="#3C3C3C" text-anchor="start" textLength="17.7" lengthAdjust="spacingAndGlyphs" >M15</text>
<text x="967.5" y="13.4" font-size="9.4" fill="#3C3C3C" text-anchor="start" textLength="17.9" lengthAdjust="spacingAndGlyphs" >M30</text>
<text x="998.5" y="13.4" font-size="9.4" fill="#3C3C3C" text-anchor="start" textLength="11.9" lengthAdjust="spacingAndGlyphs" >H1</text>
<text x="1025.5" y="13.4" font-size="9.4" fill="#3C3C3C" text-anchor="start" textLength="12.2" lengthAdjust="spacingAndGlyphs" >H4</text>
<text x="1054.6" y="13.4" font-size="9.4" fill="#3C3C3C" text-anchor="start" textLength="11.7" lengthAdjust="spacingAndGlyphs" >D1</text>
<text x="1082" y="13.4" font-size="9.4" fill="#3C3C3C" text-anchor="start" textLength="14.2" lengthAdjust="spacingAndGlyphs" >W1</text>
<text x="1108.8" y="13.4" font-size="9.4" fill="#3C3C3C" text-anchor="start" textLength="14.6" lengthAdjust="spacingAndGlyphs" >MN</text>
<rect x="1131" y="1" width="1" height="20" fill="#A0A0A0" shape-rendering="crispEdges"/><rect x="1132" y="1" width="1" height="20" fill="#FFFFFF" shape-rendering="crispEdges"/>
<path d="M1598.6,10.6 L1594.4,14.6" stroke="#1F56D0" stroke-width="2.2" stroke-linecap="round"/><circle cx="1601.5" cy="7.6" r="3.9" fill="#F4F6FA" stroke="#2A63DA" stroke-width="1.3"/>
<path d="M1637.6,11.6 L1638.6,13.6 L1635.6,11.4 Z" fill="#8A8A8A"/><ellipse cx="1634.2" cy="6.9" rx="6.4" ry="4.7" fill="#EEEEF2" stroke="#9A9A9A" stroke-width="0.8"/><path d="M1622.2,14.6 L1621.8,17 L1625,14.8 Z" fill="#8A8A8A"/><ellipse cx="1625.4" cy="11.2" rx="4.9" ry="3.9" fill="#F2F2F6" stroke="#9A9A9A" stroke-width="0.8"/>
</svg>
</body></html>
